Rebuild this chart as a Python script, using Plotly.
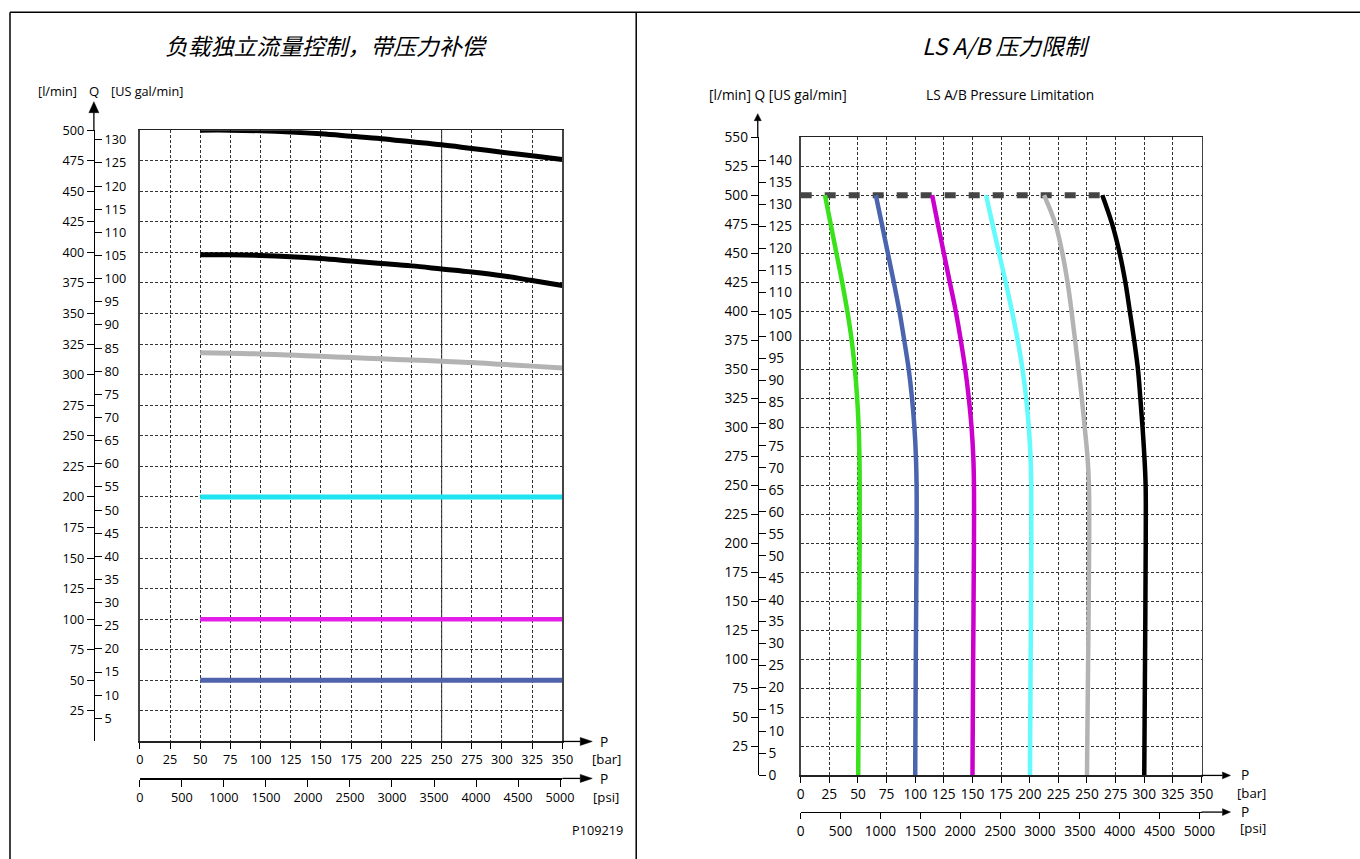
import plotly.graph_objects as go

W, H = 1360, 859
FONT = "Open Sans"
CJK = "Noto Sans CJK SC"

# ---------------- data : left chart ----------------
bar_ticks = [0, 25, 50, 75, 100, 125, 150, 175, 200, 225, 250, 275, 300, 325, 350]
psi_ticks = [0, 500, 1000, 1500, 2000, 2500, 3000, 3500, 4000, 4500, 5000]
left_q_ticks = [25, 50, 75, 100, 125, 150, 175, 200, 225, 250, 275, 300, 325, 350, 375, 400, 425, 450, 475, 500]
left_gal_ticks = [5, 10, 15, 20, 25, 30, 35, 40, 45, 50, 55, 60, 65, 70, 75, 80, 85, 90, 95, 100, 105, 110, 115, 120, 125, 130]

left_bar = [50, 75, 100, 125, 150, 175, 200, 225, 250, 275, 300, 325, 350]
left_q_black_top = [500, 500, 499.5, 498.5, 497, 495, 493, 490.5, 488, 485, 482, 479, 476]
left_q_black_mid = [398, 398, 397.5, 396.5, 395, 393, 391, 389, 386.5, 384, 381, 377, 373]
left_q_gray = [318, 317.5, 317, 316, 315, 314, 313, 312, 311, 310, 308.5, 307, 305.5]
flat_bar = [50, 350]
left_q_cyan = [200, 200]
left_q_magenta = [100, 100]
left_q_blue = [50, 50]

# ---------------- data : right chart ----------------
right_q_ticks = [25, 50, 75, 100, 125, 150, 175, 200, 225, 250, 275, 300, 325, 350, 375, 400, 425, 450, 475, 500, 525, 550]
right_gal_ticks = [0, 5, 10, 15, 20, 25, 30, 35, 40, 45, 50, 55, 60, 65, 70, 75, 80, 85, 90, 95, 100, 105, 110, 115, 120, 125, 130, 135, 140]

right_q = [0, 100, 200, 250, 275, 300, 325, 350, 375, 400, 425, 450, 475, 500]
green_bar = [50.2, 50.8, 51.5, 51.5, 51.3, 50.6, 49.3, 47.3, 44.5, 40.7, 36.2, 31.2, 26.2, 21.2]
blue_bar = [100, 100.5, 101.2, 101.2, 100.6, 99.3, 97.2, 94.3, 90.4, 86.2, 81.3, 76.1, 70.9, 65.6]
magenta_bar = [150, 150.6, 151.3, 151.3, 150.7, 149.2, 146.8, 143.7, 139.8, 135.4, 130.2, 125, 119.8, 114.8]
cyan_bar = [200.2, 200.8, 201.4, 201.3, 200.7, 199.2, 196.9, 193.7, 189.5, 184.5, 179, 173.2, 167.5, 161.9]
gray_bar = [250, 251, 251.9, 251.7, 250.4, 248, 245.5, 242.6, 239.6, 236.5, 233, 228.5, 222.5, 212.5]
black_bar = [300, 300.7, 301.3, 301.2, 300.1, 298.5, 296.6, 294.5, 291.2, 287.4, 283.5, 278.5, 272, 263.4]
limit_bar = [0, 263.4]
limit_q = [500, 500]

GAL_TO_L = 3.78541
PSI_PER_BAR = 14.36  # as drawn on the chart scale

# photo calibration (observed: rendered = B + S * designed)
SX, BX = 0.988, 3.0
SY, BY = 0.979, 8.7
FS = 1 / 0.985


def px(x):
    return ((x - BX) / SX) / W


def py(y):
    return 1 - ((y - BY) / SY) / H


# geometry (reference pixels)
L_X0, L_X1, L_YB, L_YT, L_QX, L_PSI = 139, 562, 741, 129, 93, 778
R_X0, R_X1, R_YB, R_YT, R_QX, R_PSI = 800.7, 1202, 775, 136, 757.7, 811.7

fig = go.Figure()


def add_line(xs, ys, color, width, xa, ya, dash=None, spline=True):
    fig.add_trace(go.Scatter(
        x=xs, y=ys, mode="lines", xaxis=xa, yaxis=ya,
        line=dict(color=color, width=width, dash=dash,
                  shape="spline" if spline else "linear", smoothing=1.0),
        showlegend=False, hoverinfo="skip"))


# left curves
add_line(left_bar, left_q_black_top, "#000000", 5, "x", "y")
add_line(left_bar, left_q_black_mid, "#000000", 5, "x", "y")
add_line(left_bar, left_q_gray, "#b3b3b3", 5, "x", "y")
add_line(flat_bar, left_q_cyan, "#1ee3f0", 5, "x", "y", spline=False)
add_line(flat_bar, left_q_magenta, "#e21ee8", 4.5, "x", "y", spline=False)
add_line(flat_bar, left_q_blue, "#4f63ad", 5, "x", "y", spline=False)

# right curves
add_line(limit_bar, limit_q, "#454545", 6, "x2", "y2", dash="11px,13px", spline=False)
add_line(green_bar, right_q, "#3ae21c", 4.5, "x2", "y2")
add_line(blue_bar, right_q, "#4a64ae", 4.5, "x2", "y2")
add_line(magenta_bar, right_q, "#cc00cc", 4.5, "x2", "y2")
add_line(cyan_bar, right_q, "#63fbfb", 4.5, "x2", "y2")
add_line(gray_bar, right_q, "#b3b3b3", 4.5, "x2", "y2")
add_line(black_bar, right_q, "#000000", 4.5, "x2", "y2")

# dummy traces so the extra axes render
for xa, ya in [("x3", "y"), ("x", "y3"), ("x", "y4"), ("x4", "y2"), ("x2", "y5"), ("x2", "y6")]:
    fig.add_trace(go.Scatter(x=[None], y=[None], xaxis=xa, yaxis=ya, mode="lines",
                             showlegend=False, hoverinfo="skip"))

GRID = dict(showgrid=True, gridcolor="#333333", gridwidth=1, griddash="3px,2px")


def tfont(size):
    return dict(family=FONT, size=size * FS, color="black")


lay = dict(
    width=W, height=H, margin=dict(l=0, r=0, t=0, b=0),
    paper_bgcolor="white", plot_bgcolor="white", showlegend=False,
    # ---- left ----
    xaxis=dict(domain=[px(L_X0), px(L_X1)], range=[0, 350], anchor="y",
               tickmode="array", tickvals=bar_ticks, ticktext=[str(v) for v in bar_ticks],
               ticks="outside", ticklen=6, tickcolor="black", tickfont=tfont(12.5),
               showline=True, linecolor="#222", linewidth=1.3, mirror=True,
               zeroline=False, fixedrange=True, **GRID),
    yaxis=dict(domain=[py(L_YB), py(L_YT)], range=[0, 500], anchor="x",
               tickmode="array", tickvals=left_q_ticks, showticklabels=False, ticks="",
               showline=True, linecolor="#444", linewidth=1.5, mirror=True,
               zeroline=False, fixedrange=True, **GRID),
    xaxis3=dict(overlaying="x", anchor="free", position=py(L_PSI), side="bottom",
                range=[0, 350 * PSI_PER_BAR], tickmode="array", tickvals=psi_ticks,
                ticktext=[str(v) for v in psi_ticks], ticks="outside", ticklen=7,
                tickcolor="black", tickfont=tfont(12.5), showline=True, linecolor="black",
                linewidth=1.2, showgrid=False, zeroline=False, fixedrange=True),
    yaxis3=dict(overlaying="y", anchor="free", position=px(L_QX), side="left",
                range=[0, 500], tickmode="array", tickvals=left_q_ticks,
                ticktext=[str(v) for v in left_q_ticks], ticks="outside", ticklen=7,
                tickcolor="black", tickfont=tfont(12.5), showline=True, linecolor="black",
                linewidth=1.2, showgrid=False, zeroline=False, fixedrange=True),
    yaxis4=dict(overlaying="y", anchor="free", position=px(L_QX), side="right",
                range=[0, 500], tickmode="array", tickvals=[g * GAL_TO_L for g in left_gal_ticks],
                ticktext=[str(g) for g in left_gal_ticks], ticks="outside", ticklen=7,
                tickcolor="black", tickfont=tfont(12.5), showline=False, showgrid=False,
                zeroline=False, fixedrange=True),
    # ---- right ----
    xaxis2=dict(domain=[px(R_X0), px(R_X1)], range=[0, 350], anchor="y2",
                tickmode="array", tickvals=bar_ticks, ticktext=[str(v) for v in bar_ticks],
                ticks="outside", ticklen=6, tickcolor="black", tickfont=tfont(13.5),
                showline=True, linecolor="#222", linewidth=1.3, mirror=True,
                zeroline=False, fixedrange=True, **GRID),
    yaxis2=dict(domain=[py(R_YB), py(R_YT)], range=[0, 550], anchor="x2",
                tickmode="array", tickvals=right_q_ticks, showticklabels=False, ticks="",
                showline=True, linecolor="#444", linewidth=1.5, mirror=True,
                zeroline=False, fixedrange=True, **GRID),
    xaxis4=dict(overlaying="x2", anchor="free", position=py(R_PSI), side="bottom",
                range=[0, 350 * PSI_PER_BAR], tickmode="array", tickvals=psi_ticks,
                ticktext=[str(v) for v in psi_ticks], ticks="outside", ticklen=6,
                tickcolor="black", tickfont=tfont(13.5), showline=True, linecolor="black",
                linewidth=1.2, showgrid=False, zeroline=False, fixedrange=True),
    yaxis5=dict(overlaying="y2", anchor="free", position=px(R_QX), side="left",
                range=[0, 550], tickmode="array", tickvals=right_q_ticks,
                ticktext=[str(v) for v in right_q_ticks], ticks="outside", ticklen=7,
                tickcolor="black", tickfont=tfont(13.5), showline=True, linecolor="black",
                linewidth=1.2, showgrid=False, zeroline=False, fixedrange=True),
    yaxis6=dict(overlaying="y2", anchor="free", position=px(R_QX), side="right",
                range=[0, 550], tickmode="array", tickvals=[g * GAL_TO_L for g in right_gal_ticks],
                ticktext=[str(g) for g in right_gal_ticks], ticks="outside", ticklen=7,
                tickcolor="black", tickfont=tfont(13.5), showline=False, showgrid=False,
                zeroline=False, fixedrange=True),
)
fig.update_layout(**lay)

shapes = []


def pline(x0, y0, x1, y1, w=1.3, color="black"):
    shapes.append(dict(type="line", xref="paper", yref="paper",
                       x0=px(x0), y0=py(y0), x1=px(x1), y1=py(y1),
                       line=dict(color=color, width=w)))


def tri(tx, ty, direction, length, half):
    if direction == "right":
        pts = [(tx, ty), (tx - length, ty - half), (tx - length, ty + half)]
    else:  # up
        pts = [(tx, ty), (tx - half, ty + length), (tx + half, ty + length)]
    path = "M " + " L ".join(f"{px(a)},{py(b)}" for a, b in pts) + " Z"
    shapes.append(dict(type="path", xref="paper", yref="paper", path=path,
                       fillcolor="black", line=dict(color="black", width=0.5)))


# outer frame
pline(9, 11, W + 20, 11, 1.5)
pline(9, 11, 9, H + 20, 1.5)
pline(636, 11, 636, H + 20, 1.5)

# left arrows
pline(L_QX, L_YT, L_QX, 111)
tri(L_QX, 100.5, "up", 11, 5)
pline(L_X1, L_YB, 580, L_YB)
tri(592, L_YB, "right", 12, 4)
pline(L_X1, L_PSI, 580, L_PSI)
tri(592, L_PSI, "right", 12, 4)
# right arrows
pline(R_QX, R_YT, R_QX, 119)
tri(R_QX, 112.5, "up", 7, 3.5)
pline(R_X1, R_YB, 1223, R_YB)
tri(1231, R_YB, "right", 8, 3.4)
pline(R_X1, R_PSI, 1223, R_PSI)
tri(1231, R_PSI, "right", 8, 3.4)

# solid 250 bar reference line in left chart
shapes.append(dict(type="line", xref="x", yref="y", x0=250, x1=250, y0=0, y1=500,
                   line=dict(color="#555", width=1.2), layer="below"))

fig.update_layout(shapes=shapes)

ann = []


def text(x, y, s, size=12.5, fam=FONT, xanchor="center"):
    ann.append(dict(x=px(x), y=py(y), xref="paper", yref="paper", text=s, showarrow=False,
                    xanchor=xanchor, yanchor="middle", borderpad=0,
                    font=dict(family=fam, size=size * FS, color="black")))


text(326, 44, "<i>负载独立流量控制，带压力补偿</i>", 22.5, CJK)
text(57, 90, "[l/min]", 12.5)
text(93, 90, "Q", 13)
text(146, 90, "[US gal/min]", 12.5)
text(604, 741, "P", 13.5)
text(606, 759, "[bar]", 13)
text(604, 778, "P", 13.5)
text(606, 797, "[psi]", 13)
text(597, 830, "P109219", 12.5)

text(1006, 44, "<i>LS A/B 压力限制</i>", 22.5, CJK)
text(777.5, 93, "[l/min] Q [US gal/min]", 13.5)
text(925, 93, "LS A/B Pressure Limitation", 13.5, xanchor="left")
text(1246, 774, "P", 13.5)
text(1252, 792.5, "[bar]", 13)
text(1246, 811.5, "P", 13.5)
text(1254, 828, "[psi]", 13)

fig.update_layout(annotations=ann)

fig.write_html("out.html", config={"displayModeBar": False, "staticPlot": True},
               post_script="document.body.style.margin='0';document.body.style.overflow='hidden';")
